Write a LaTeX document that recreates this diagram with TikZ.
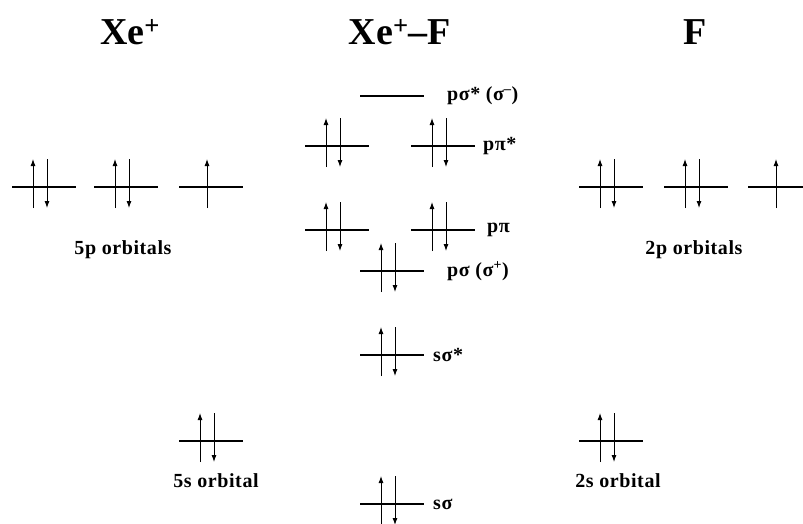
\documentclass[tikz,border=0pt]{standalone}
\usepackage{fontspec}
\setmainfont{Liberation Serif}
\usetikzlibrary{arrows.meta,calc}
\tikzset{
  levelline/.style={line width=2.2pt},
  spin/.style={line width=0.9pt,-{Latex[length=7pt,width=5pt]}},
  title/.style={font=\fontsize{38}{44}\selectfont\bfseries,anchor=base},
  lab/.style={font=\fontsize{20}{22}\selectfont\bfseries\addfontfeatures{LetterSpace=3},anchor=west,inner sep=0pt},
  clab/.style={font=\fontsize{20}{22}\selectfont\bfseries\addfontfeatures{LetterSpace=3},anchor=base,inner sep=0pt}
}
% #1 name, #2 left x, #3 y, #4 length
\newcommand{\orbline}[4]{%
  \coordinate (#1-l) at (#2,#3);
  \coordinate (#1-r) at ($(#2,#3)+(#4,0)$);
  \draw[levelline] (#1-l) -- (#1-r);}
\newcommand{\orbpair}[3]{%
  \orbline{#1}{#2}{#3}{64}
  \coordinate (#1-ua) at ($(#2,#3)+(21,21)$);
  \coordinate (#1-ub) at ($(#2,#3)+(21,-28)$);
  \coordinate (#1-da) at ($(#2,#3)+(35,-28)$);
  \coordinate (#1-db) at ($(#2,#3)+(35,21)$);
  \draw[spin] (#1-ua) -- (#1-ub);
  \draw[spin] (#1-da) -- (#1-db);}
\newcommand{\orbsingle}[4]{%
  \orbline{#1}{#2}{#3}{#4}
  \coordinate (#1-ua) at ($(#2,#3)+(28,21)$);
  \coordinate (#1-ub) at ($(#2,#3)+(28,-28)$);
  \draw[spin] (#1-ua) -- (#1-ub);}
\begin{document}
\begin{tikzpicture}[x=1pt,y=-1pt]
\useasboundingbox (0,0) rectangle (803,523);
% titles
\node[title] (t1) at (130,44) {Xe\textsuperscript{+}};
\node[title] (t2) at (400,44) {Xe\textsuperscript{+}–F};
\node[title] (t3) at (695,44) {F};
% Xe+ 5p
\orbpair{xa}{12}{187}
\orbpair{xb}{94}{187}
\orbsingle{xc}{179}{187}{64}
\node[clab] (l5p) at (123,254) {5p orbitals};
% F 2p
\orbpair{fa}{579}{187}
\orbpair{fb}{664}{187}
\orbsingle{fc}{748}{187}{55}
\node[clab] (l2p) at (694,254) {2p orbitals};
% MOs
\orbline{psigs}{360}{96}{64}
\node[lab] (lpsigs) at (447,96) {pσ* (σ\textsuperscript{–})};
\orbpair{ppisa}{305}{146}
\orbpair{ppisb}{411}{146}
\node[lab] (lppis) at (483,146) {pπ*};
\orbpair{ppia}{305}{230}
\orbpair{ppib}{411}{230}
\node[lab] (lppi) at (487,230) {pπ};
\orbpair{psig}{360}{271}
\node[lab] (lpsig) at (447,271) {pσ (σ\textsuperscript{+})};
\orbpair{ssigs}{360}{355}
\node[lab] (lssigs) at (433,355) {sσ*};
\orbpair{ssig}{360}{504}
\node[lab] (lssig) at (433,504) {sσ};
% s orbitals
\orbpair{xs}{179}{441}
\node[clab] (l5s) at (216,487) {5s orbital};
\orbpair{fs}{579}{441}
\node[clab] (l2s) at (618,487) {2s orbital};
\end{tikzpicture}
\end{document}
